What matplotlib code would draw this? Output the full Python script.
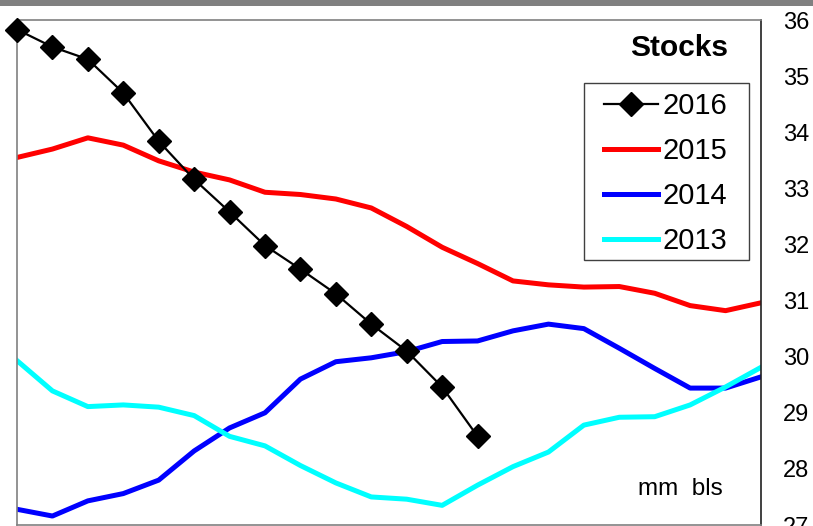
import matplotlib
matplotlib.use("Agg")
import matplotlib.pyplot as plt
from matplotlib.patches import Rectangle

plt.rcParams['font.family'] = ['Liberation Sans', 'DejaVu Sans']

weeks = list(range(22))
labels = ["2016", "2015", "2014", "2013"]
s2016 = [35.83, 35.52, 35.30, 34.70, 33.84, 33.16, 32.58, 31.98, 31.56, 31.12,
         30.58, 30.10, 29.46, 28.58]
s2015 = [33.55, 33.70, 33.90, 33.77, 33.49, 33.29, 33.15, 32.93, 32.89, 32.81,
         32.65, 32.32, 31.95, 31.66, 31.35, 31.28, 31.24, 31.25, 31.13, 30.91,
         30.82, 30.96]
s2014 = [27.28, 27.16, 27.43, 27.56, 27.80, 28.32, 28.73, 29.00, 29.60, 29.91,
         29.98, 30.09, 30.27, 30.28, 30.46, 30.58, 30.50, 30.15, 29.79, 29.44,
         29.44, 29.64]
s2013 = [29.93, 29.39, 29.11, 29.14, 29.10, 28.95, 28.58, 28.41, 28.06, 27.75,
         27.50, 27.46, 27.35, 27.71, 28.04, 28.30, 28.78, 28.92, 28.93, 29.14,
         29.46, 29.81]
yticks = [27, 28, 29, 30, 31, 32, 33, 34, 35, 36]

W, H = 813, 526
fig = plt.figure(figsize=(W / 100, H / 100), dpi=100)
fig.patches.append(Rectangle((0, 1 - 6 / H), 1, 6 / H, transform=fig.transFigure,
                             facecolor='#808080', edgecolor='none', zorder=0))
ax = fig.add_axes([17 / W, 1 / H, (761 - 17) / W, (525 - 20) / H])

ax.plot(weeks[:len(s2015)], s2015, color='#ff0000', lw=3.6, label=labels[1], zorder=2)
ax.plot(weeks[:len(s2014)], s2014, color='#0000ff', lw=3.6, label=labels[2], zorder=2)
ax.plot(weeks[:len(s2013)], s2013, color='#00ffff', lw=3.6, label=labels[3], zorder=2)
ax.plot(weeks[:len(s2016)], s2016, color='black', lw=1.6, marker='D', markersize=12,
        label=labels[0], zorder=3, clip_on=False)

ax.set_xlim(0, 21)
ax.set_ylim(27, 36)
ax.set_xticks([])
ax.yaxis.tick_right()
ax.set_yticks(yticks)
ax.set_yticklabels([str(t) for t in yticks])
ax.tick_params(axis='y', length=0, pad=16, labelsize=17)

for side in ['left', 'bottom', 'top']:
    ax.spines[side].set_color('#808080')
    ax.spines[side].set_linewidth(1.2)
ax.spines['right'].set_color('#202020')
ax.spines['right'].set_linewidth(1.2)

handles, labs = ax.get_legend_handles_labels()
order = [3, 0, 1, 2]
leg = ax.legend([handles[i] for i in order], [labs[i] for i in order],
                loc='upper left', bbox_to_anchor=((604 - 17) / 744, 1 - (92 - 20) / 505),
                fontsize=21, frameon=False,
                handlelength=1.85, handletextpad=0.15, labelspacing=0.58,
                borderpad=0, borderaxespad=0)
leg.set_zorder(6)
ax.add_patch(Rectangle((584 / W, 1 - 260 / H), (749 - 584) / W, (260 - 83) / H,
                       transform=fig.transFigure, facecolor='white',
                       edgecolor='#404040', linewidth=1.0, zorder=4, clip_on=False))

fig.text(679.5 / W, 1 - 56 / H, "Stocks", fontsize=21.5, fontweight='bold',
         ha='center', va='baseline')
fig.text(680 / W, 1 - 495 / H, "mm  bls", fontsize=17.5, ha='center', va='baseline')

fig.savefig("out.png", dpi=100)
